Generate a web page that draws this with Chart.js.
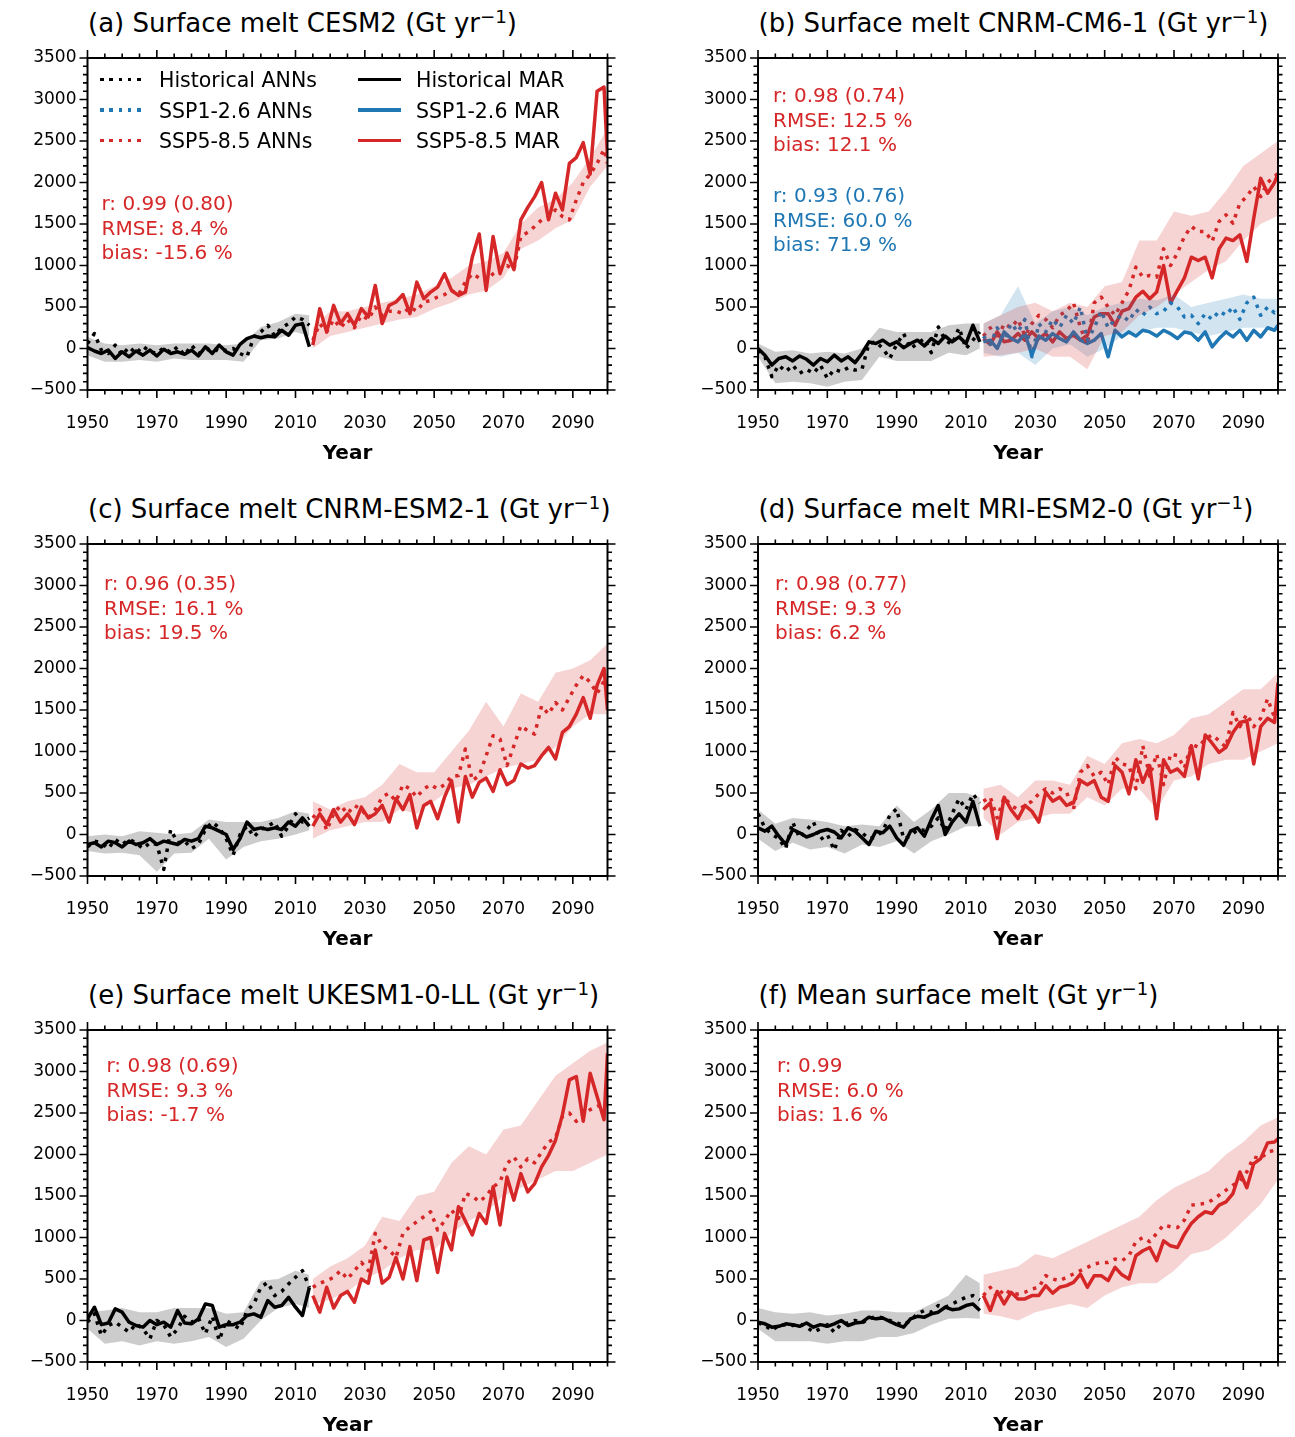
<!DOCTYPE html>
<html>
<head>
<meta charset="utf-8">
<script src="https://cdn.jsdelivr.net/npm/chart.js@4.4.0/dist/chart.umd.min.js"></script>
<style>
  body { margin: 0; width: 1295px; height: 1437px; overflow: hidden; background: #fff; font-family: 'DejaVu Sans', sans-serif; position: relative; }
  canvas { position: absolute; }
  .title { position: absolute; font-size: 26px; line-height: 28px; white-space: nowrap; color: #000; }
  .title sup { font-size: 70%; line-height: 0; position: relative; top: -0.45em; vertical-align: baseline; }
  .stats { position: absolute; font-size: 20px; line-height: 24.5px; white-space: pre; }
  .leg-text { position: absolute; font-size: 20.5px; line-height: 24px; white-space: nowrap; color: #000; }
  .leg-line { position: absolute; height: 3.5px; }
</style>
</head>
<body>
<script>
const FONT = "'DejaVu Sans', sans-serif";
const RED = '#d62728';
const BLUE = '#1f77b4';
const RED_BAND = 'rgba(214, 39, 40, 0.2)';
const BLUE_BAND = 'rgba(31, 119, 180, 0.2)';
const GREY_BAND = 'rgba(0, 0, 0, 0.2)';

// axes
const xTickLabels = [1950, 1970, 1990, 2010, 2030, 2050, 2070, 2090];
const yTickLabels = [-500, 0, 500, 1000, 1500, 2000, 2500, 3000, 3500];

// years (lines sampled every 2 years, ensemble ranges every 5 years)
const histYears = [1950, 1952, 1954, 1956, 1958, 1960, 1962, 1964, 1966, 1968, 1970, 1972, 1974, 1976, 1978, 1980, 1982,
  1984, 1986, 1988, 1990, 1992, 1994, 1996, 1998, 2000, 2002, 2004, 2006, 2008, 2010, 2012, 2014];
const futYears = [2015, 2017, 2019, 2021, 2023, 2025, 2027, 2029, 2031, 2033, 2035, 2037, 2039, 2041, 2043, 2045, 2047,
  2049, 2051, 2053, 2055, 2057, 2059, 2061, 2063, 2065, 2067, 2069, 2071, 2073, 2075, 2077, 2079, 2081, 2083, 2085,
  2087, 2089, 2091, 2093, 2095, 2097, 2099, 2100];
const histBandYears = [1950, 1955, 1960, 1965, 1970, 1975, 1980, 1985, 1990, 1995, 2000, 2005, 2010, 2014];
const futBandYears = [2015, 2020, 2025, 2030, 2035, 2040, 2045, 2050, 2055, 2060, 2065, 2070, 2075, 2080, 2085, 2090, 2095, 2100];

// (a) CESM2
const aHistMar = [10,-30,-60,-20,-120,-40,-100,-30,-80,-20,-90,-10,-60,-40,-70,-20,-90,20,-60,40,-40,-80,50,120,150,130,150,140,220,160,280,300,20];
const aHistAnn = [60,180,-20,-60,40,-80,20,-60,30,-40,-60,10,-50,20,-80,40,-60,-20,10,-40,-20,0,-60,-100,140,200,280,150,250,300,380,350,280];
const aHistLo = [-80,-160,-160,-140,-160,-120,-140,-140,-140,-160,100,120,200,150];
const aHistHi = [140,60,40,60,40,60,60,60,40,60,260,320,420,400];
const aSsp585Mar = [40,480,200,520,300,420,280,480,380,760,300,520,560,650,420,800,600,680,740,900,700,640,680,1100,1380,700,1350,900,1150,950,1550,1700,1830,2000,1550,1870,1670,2230,2300,2480,2100,3100,3150,2300];
const aSsp585Ann = [100,300,200,350,250,350,250,400,350,500,400,450,450,420,500,450,560,580,620,650,700,650,800,900,850,820,900,950,1000,950,1350,1400,1470,1550,1590,1670,1590,1550,1790,2000,2100,2230,2400,2230];
const aSsp585Lo = [0,150,200,250,300,350,380,480,550,650,700,850,1200,1300,1450,1550,1950,2200];
const aSsp585Hi = [250,450,450,500,550,600,650,750,850,1000,1050,1150,1500,1700,1800,2000,2300,2650];

// (b) CNRM-CM6-1
const bHistMar = [0,-80,-200,-120,-100,-150,-90,-130,-200,-120,-160,-80,-150,-100,-170,-60,80,60,100,40,80,10,60,100,30,120,60,150,80,140,60,280,80];
const bHistAnn = [-20,-100,-340,-200,-280,-200,-300,-250,-300,-200,-360,-250,-280,-230,-260,-250,60,80,0,-120,50,180,0,60,120,-50,260,100,50,250,0,100,200];
const bHistLo = [-100,-420,-400,-420,-460,-400,-380,-100,-150,-150,-150,-50,-80,0];
const bHistHi = [60,-40,-20,-60,-40,-60,0,250,200,200,200,280,300,300];
const bSsp585Mar = [120,50,200,80,100,180,100,200,120,180,80,200,120,160,100,160,380,420,420,280,450,480,620,690,600,680,1000,550,700,850,1100,1060,1100,850,1200,1330,1300,1370,1050,1570,2050,1870,2000,2110];
const bSsp585Ann = [150,250,100,300,250,350,150,300,400,350,250,400,450,550,250,50,550,620,500,400,550,700,980,860,880,860,1200,1000,1150,1350,1470,1410,1410,1290,1530,1610,1510,1750,1830,1950,1830,2000,2070,2110];
const bSsp585Lo = [-100,-80,-50,0,-100,-100,-250,150,200,400,500,650,800,950,1050,1300,1500,1600];
const bSsp585Hi = [300,400,500,550,450,550,500,750,800,1300,1300,1650,1600,1650,1900,2200,2350,2500];
const bSsp126Mar = [80,100,0,200,120,80,180,-80,150,100,180,120,80,200,100,60,100,180,-100,220,140,200,150,220,200,150,220,180,120,200,180,100,200,20,120,200,140,220,100,220,140,250,220,280];
const bSsp126Ann = [150,50,250,100,300,200,350,-100,300,200,350,250,400,300,500,100,250,450,250,350,400,330,470,400,500,420,450,550,500,380,400,300,420,350,450,400,500,350,550,620,400,500,430,460];
const bSsp126Lo = [-50,-100,-50,-200,0,50,-100,0,150,200,250,250,200,150,200,250,250,250];
const bSsp126Hi = [300,400,750,300,450,500,400,500,550,600,580,650,500,550,600,650,600,600];

// (c) CNRM-ESM2-1
const cHistMar = [-120,-100,-150,-80,-100,-150,-80,-120,-100,-50,-120,-80,-100,-120,-60,-80,-50,100,80,40,0,-180,-50,150,60,80,60,80,60,150,100,200,100];
const cHistAnn = [-150,-80,-100,-170,-60,-120,-60,-100,-170,-100,-120,-420,60,-100,-80,-170,-120,60,150,80,-50,-250,0,100,-30,60,100,150,-20,100,250,150,200];
const cHistLo = [-200,-230,-220,-250,-450,-230,-220,-50,-300,-150,-80,-50,0,50];
const cHistHi = [-20,0,-20,40,20,0,20,180,150,150,150,200,280,250];
const cSsp585Mar = [100,250,120,300,150,250,120,330,200,250,350,150,430,300,480,80,350,400,190,450,650,150,700,450,630,680,520,780,600,650,850,800,830,950,1050,910,1230,1300,1450,1650,1400,1800,2000,1500];
const cSsp585Ann = [200,300,50,250,350,250,350,300,200,300,450,500,400,600,550,450,550,600,550,600,700,710,1030,650,710,950,1190,1150,830,1070,1310,1250,1210,1550,1450,1590,1500,1650,1800,1915,1835,1700,1850,1750];
const cSsp585Lo = [-50,50,100,150,150,300,250,400,550,600,700,800,850,900,1050,1300,1450,1450];
const cSsp585Hi = [400,300,400,450,600,850,750,750,1000,1250,1600,1300,1700,1600,1950,2000,2100,2300];

// (d) MRI-ESM2-0
const dHistMar = [80,40,100,-20,-120,60,20,-30,0,40,60,30,-40,80,40,-40,-120,40,20,100,-40,-130,40,80,-20,180,350,0,150,250,150,400,100];
const dHistAnn = [250,80,0,-50,-170,150,-40,50,150,-60,0,-190,50,-20,60,20,-50,-30,40,230,310,-50,-20,60,50,100,200,50,250,430,300,490,380];
const dHistLo = [-50,-200,-100,-180,-150,-230,-120,-150,-80,-230,-80,0,100,100];
const dHistHi = [300,130,200,180,150,100,120,100,350,150,300,500,500,450];
const dSsp585Mar = [300,380,-50,450,300,190,350,280,150,510,400,450,350,380,650,600,650,450,400,830,750,490,900,630,830,190,900,750,790,700,1070,670,1200,1100,990,1050,1230,1350,1370,850,1300,1400,1350,1830];
const dSsp585Ann = [400,450,200,450,350,300,350,400,490,550,500,550,510,300,750,830,700,750,600,930,850,830,550,1070,700,970,600,970,950,800,1090,1050,1150,1200,1130,1050,1470,1300,1450,1300,1400,1635,1410,1600];
const dSsp585Lo = [200,0,150,200,250,250,450,350,550,550,300,650,700,850,900,900,1000,1100];
const dSsp585Hi = [550,600,450,650,650,600,950,850,1100,1150,1100,1200,1400,1450,1600,1750,1750,1950];

// (e) UKESM1-0-LL
const eHistMar = [20,160,-50,-30,140,100,-20,-60,-80,0,-50,-20,-80,120,-30,-40,20,200,180,-80,-50,-50,-20,60,80,40,240,160,180,280,160,60,400];
const eHistAnn = [-20,80,-180,-60,-20,-80,-140,-40,-100,-220,0,-50,-200,-100,50,-20,30,-160,50,-240,0,-50,-100,120,200,400,460,300,350,440,520,600,400];
const eHistLo = [-100,-280,-250,-300,-250,-280,-250,-200,-320,-220,0,150,200,150];
const eHistHi = [100,120,150,100,100,150,150,150,80,100,480,500,600,550];
const eSsp585Mar = [300,100,400,150,300,350,220,500,450,850,450,520,760,500,890,480,970,1000,580,1050,850,1370,1200,1030,1290,1170,1610,1150,1730,1450,1770,1550,1650,1850,1990,2170,2480,2900,2940,2400,2980,2700,2420,3220];
const eSsp585Ann = [400,450,480,520,600,500,600,700,600,1050,900,850,760,1050,1130,1190,1250,1310,1090,1200,1330,1230,1530,1500,1430,1500,1610,1670,1890,1970,1850,1950,1900,2030,2150,2200,2460,2500,2400,2480,2540,2580,2600,2600];
const eSsp585Lo = [200,250,350,500,600,750,850,850,1050,1200,1300,1500,1600,1700,1800,1800,1900,2000];
const eSsp585Hi = [500,650,750,900,1250,1200,1500,1550,1900,2100,2000,2300,2350,2650,2950,3100,3250,3350];

// (f) multi-model mean
const fHistMar = [-20,-40,-80,-70,-40,-50,-70,-30,-80,-50,-70,-40,0,-60,-30,-20,40,20,30,-10,-50,-80,20,50,40,80,100,160,130,140,180,200,120];
const fHistAnn = [-30,-60,-120,-60,-50,-60,-40,-80,-140,-100,-50,-140,-40,-30,0,-30,20,50,30,0,-30,-50,0,80,120,100,180,160,200,240,280,300,250];
const fHistLo = [-100,-250,-250,-250,-280,-250,-250,-200,-200,-150,-50,20,30,20];
const fHistHi = [150,100,80,100,60,80,120,120,100,100,200,300,550,450];
const fSsp585Mar = [300,120,350,200,340,260,260,300,300,420,330,400,420,460,560,400,540,540,480,640,550,500,780,840,880,720,960,900,880,1040,1170,1250,1310,1290,1390,1430,1530,1790,1600,1890,1950,2140,2150,2190];
const fSsp585Ann = [300,400,280,380,320,320,340,380,400,540,500,480,520,560,600,640,680,700,700,740,720,780,950,1000,950,1050,1150,1130,1120,1210,1390,1400,1410,1450,1510,1570,1630,1680,1790,1970,1950,2030,2050,2070];
const fSsp585Lo = [80,50,0,100,150,200,150,300,400,450,450,600,800,850,1000,1200,1400,1700];
const fSsp585Hi = [550,600,650,800,750,850,950,1050,1150,1250,1450,1600,1700,1800,2000,2150,2350,2450];

const panels = [
  { col: 0, row: 0, title: '(a) Surface melt CESM2',
    hist: [aHistMar, aHistAnn, aHistLo, aHistHi], ssp585: [aSsp585Mar, aSsp585Ann, aSsp585Lo, aSsp585Hi],
    stats: [{ color: RED, dx: 14, dy: 133, text: 'r: 0.99 (0.80)\nRMSE: 8.4 %\nbias: -15.6 %' }] },
  { col: 1, row: 0, title: '(b) Surface melt CNRM-CM6-1',
    hist: [bHistMar, bHistAnn, bHistLo, bHistHi], ssp585: [bSsp585Mar, bSsp585Ann, bSsp585Lo, bSsp585Hi],
    ssp126: [bSsp126Mar, bSsp126Ann, bSsp126Lo, bSsp126Hi],
    stats: [{ color: RED, dx: 15, dy: 25, text: 'r: 0.98 (0.74)\nRMSE: 12.5 %\nbias: 12.1 %' },
            { color: BLUE, dx: 15, dy: 125, text: 'r: 0.93 (0.76)\nRMSE: 60.0 %\nbias: 71.9 %' }] },
  { col: 0, row: 1, title: '(c) Surface melt CNRM-ESM2-1',
    hist: [cHistMar, cHistAnn, cHistLo, cHistHi], ssp585: [cSsp585Mar, cSsp585Ann, cSsp585Lo, cSsp585Hi],
    stats: [{ color: RED, dx: 16.5, dy: 27, text: 'r: 0.96 (0.35)\nRMSE: 16.1 %\nbias: 19.5 %' }] },
  { col: 1, row: 1, title: '(d) Surface melt MRI-ESM2-0',
    hist: [dHistMar, dHistAnn, dHistLo, dHistHi], ssp585: [dSsp585Mar, dSsp585Ann, dSsp585Lo, dSsp585Hi],
    stats: [{ color: RED, dx: 17, dy: 27, text: 'r: 0.98 (0.77)\nRMSE: 9.3 %\nbias: 6.2 %' }] },
  { col: 0, row: 2, title: '(e) Surface melt UKESM1-0-LL',
    hist: [eHistMar, eHistAnn, eHistLo, eHistHi], ssp585: [eSsp585Mar, eSsp585Ann, eSsp585Lo, eSsp585Hi],
    stats: [{ color: RED, dx: 19, dy: 23, text: 'r: 0.98 (0.69)\nRMSE: 9.3 %\nbias: -1.7 %' }] },
  { col: 1, row: 2, title: '(f) Mean surface melt',
    hist: [fHistMar, fHistAnn, fHistLo, fHistHi], ssp585: [fSsp585Mar, fSsp585Ann, fSsp585Lo, fSsp585Hi],
    stats: [{ color: RED, dx: 19, dy: 23, text: 'r: 0.99\nRMSE: 6.0 %\nbias: 1.6 %' }] }
];

const legendItems = [
  { label: 'Historical ANNs', color: '#000', dotted: true, x: 100, y: 79.5 },
  { label: 'SSP1-2.6 ANNs', color: BLUE, dotted: true, x: 100, y: 110 },
  { label: 'SSP5-8.5 ANNs', color: RED, dotted: true, x: 100, y: 140.5 },
  { label: 'Historical MAR', color: '#000', dotted: false, x: 358, y: 79.5 },
  { label: 'SSP1-2.6 MAR', color: BLUE, dotted: false, x: 358, y: 110 },
  { label: 'SSP5-8.5 MAR', color: RED, dotted: false, x: 358, y: 140.5 }
];

// layout
const colChartLeft = [87.5, 758];
const colCanvasLeft = [0, 648];
const rowChartTop = [58, 544, 1030];
const CANVAS_W = 647, CANVAS_H = 428, PLOT_W = 520, PLOT_H = 332, PAD_TOP = 20;

function pts(years, vals) {
  return years.map((yr, i) => ({ x: yr, y: vals[i] }));
}

function bandSets(years, lo, hi, color) {
  return [
    { data: pts(years, lo), borderColor: 'rgba(0,0,0,0)', borderWidth: 1, fill: false },
    { data: pts(years, hi), borderColor: 'rgba(0,0,0,0)', borderWidth: 1, fill: '-1', backgroundColor: color }
  ];
}

function lineSet(years, vals, color, dotted) {
  return {
    data: pts(years, vals), borderColor: color, borderWidth: 3.5, fill: false,
    borderDash: dotted ? [3.5, 5.8] : [], borderCapStyle: 'butt', borderJoinStyle: 'round'
  };
}

// frame and tick marks on all four sides
const frameTicks = {
  id: 'frameTicks',
  afterDraw(chart) {
    const { ctx, chartArea: a, scales: { x, y } } = chart;
    ctx.save();
    ctx.strokeStyle = '#000';
    ctx.lineWidth = 2;
    ctx.strokeRect(a.left, a.top, a.right - a.left, a.bottom - a.top);
    ctx.beginPath();
    for (let v = 1950; v <= 2100; v += 5) {
      const px = x.getPixelForValue(v);
      const len = xTickLabels.includes(v) ? 8 : 4.5;
      ctx.moveTo(px, a.bottom); ctx.lineTo(px, a.bottom + len);
      ctx.moveTo(px, a.top); ctx.lineTo(px, a.top - len);
    }
    for (let v = -500; v <= 3500; v += 100) {
      const py = y.getPixelForValue(v);
      const len = yTickLabels.includes(v) ? 8 : 4.5;
      ctx.moveTo(a.left, py); ctx.lineTo(a.left - len, py);
      ctx.moveTo(a.right, py); ctx.lineTo(a.right + len, py);
    }
    ctx.lineWidth = 1.6;
    ctx.stroke();
    ctx.restore();
  }
};

function addDiv(cls, left, top, html, color) {
  const d = document.createElement('div');
  d.className = cls;
  d.style.left = left + 'px';
  d.style.top = top + 'px';
  if (color) d.style.color = color;
  d.innerHTML = html;
  document.body.appendChild(d);
  return d;
}

panels.forEach(p => {
  const chartLeft = colChartLeft[p.col];
  const canvasLeft = colCanvasLeft[p.col];
  const chartTop = rowChartTop[p.row];
  const yWidth = chartLeft - canvasLeft;

  const canvas = document.createElement('canvas');
  canvas.width = CANVAS_W;
  canvas.height = CANVAS_H;
  canvas.style.left = canvasLeft + 'px';
  canvas.style.top = (chartTop - PAD_TOP) + 'px';
  document.body.appendChild(canvas);

  let datasets = [];
  datasets = datasets.concat(bandSets(histBandYears, p.hist[2], p.hist[3], GREY_BAND));
  datasets = datasets.concat(bandSets(futBandYears, p.ssp585[2], p.ssp585[3], RED_BAND));
  if (p.ssp126) datasets = datasets.concat(bandSets(futBandYears, p.ssp126[2], p.ssp126[3], BLUE_BAND));
  datasets.push(lineSet(histYears, p.hist[1], '#000', true));
  datasets.push(lineSet(histYears, p.hist[0], '#000', false));
  if (p.ssp126) datasets.push(lineSet(futYears, p.ssp126[1], BLUE, true));
  datasets.push(lineSet(futYears, p.ssp585[1], RED, true));
  if (p.ssp126) datasets.push(lineSet(futYears, p.ssp126[0], BLUE, false));
  datasets.push(lineSet(futYears, p.ssp585[0], RED, false));

  new Chart(canvas, {
    type: 'line',
    data: { datasets: datasets },
    options: {
      responsive: false,
      animation: false,
      devicePixelRatio: 1,
      events: [],
      layout: { padding: { top: PAD_TOP, right: CANVAS_W - yWidth - PLOT_W, left: 0, bottom: 0 } },
      elements: { point: { radius: 0 }, line: { tension: 0 } },
      plugins: { legend: { display: false }, tooltip: { enabled: false } },
      scales: {
        x: {
          type: 'linear', min: 1950, max: 2100,
          afterBuildTicks: s => { s.ticks = xTickLabels.map(v => ({ value: v })); },
          afterFit: s => { s.height = CANVAS_H - PAD_TOP - PLOT_H; },
          grid: { display: false }, border: { display: false },
          ticks: { font: { family: FONT, size: 17 }, color: '#000', padding: 15, maxRotation: 0, autoSkip: false,
                   callback: v => String(v) },
          title: { display: true, text: 'Year', color: '#000', font: { family: FONT, size: 20, weight: 'bold' },
                   padding: { top: 0, bottom: 0 } }
        },
        y: {
          min: -500, max: 3500,
          afterBuildTicks: s => { s.ticks = yTickLabels.map(v => ({ value: v })); },
          afterFit: s => { s.width = yWidth; },
          grid: { display: false }, border: { display: false },
          ticks: { font: { family: FONT, size: 17 }, color: '#000', padding: 3, autoSkip: false,
                   callback: v => (v < 0 ? '\u2212' + (-v) : String(v)) }
        }
      }
    },
    plugins: [frameTicks]
  });

  addDiv('title', chartLeft + 0.5, chartTop - 49.5, p.title + ' (Gt yr<sup>\u22121</sup>)');
  p.stats.forEach(s => addDiv('stats', chartLeft + s.dx, chartTop + s.dy, s.text, s.color));
});

legendItems.forEach(it => {
  const line = document.createElement('div');
  line.className = 'leg-line';
  line.style.left = it.x + 'px';
  line.style.top = (it.y - 1.75) + 'px';
  line.style.width = '43px';
  line.style.background = it.dotted
    ? 'repeating-linear-gradient(90deg, ' + it.color + ' 0 3.5px, transparent 3.5px 9.3px)'
    : it.color;
  document.body.appendChild(line);
  addDiv('leg-text', it.x + 59 + (it.x > 200 ? -1 : 0), it.y - 11.5, it.label);
});
</script>
</body>
</html>
